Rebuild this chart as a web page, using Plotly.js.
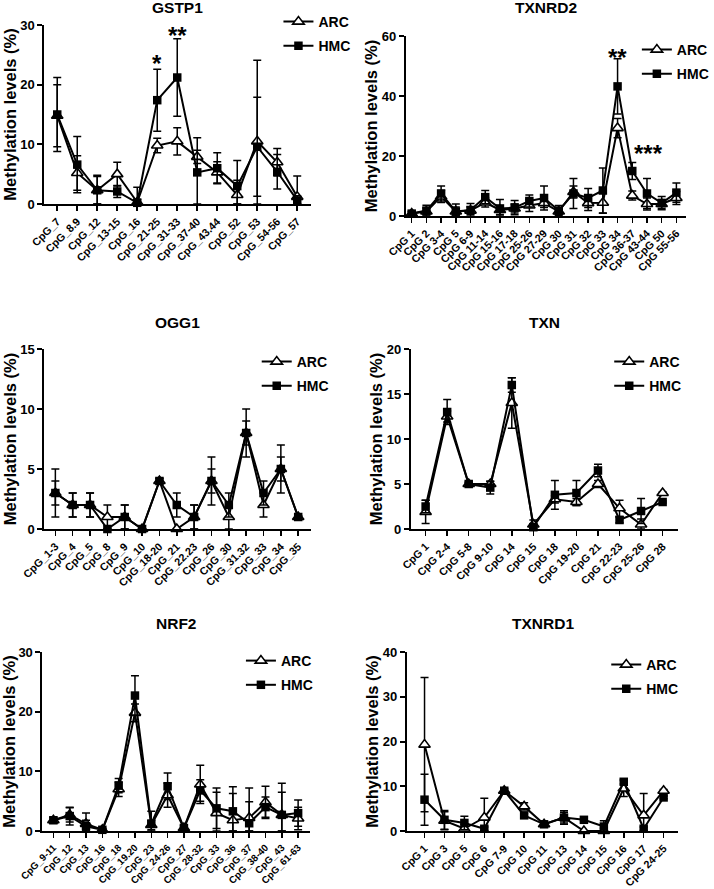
<!DOCTYPE html>
<html><head><meta charset="utf-8">
<script src="https://cdn.plot.ly/plotly-3.0.1.min.js"></script>
<style>html,body{margin:0;padding:0;background:#fff}</style>
</head><body><div id="chart" style="width:714px;height:889px"></div>
<script>
// ---------- data ----------
const seriesNames = ['ARC', 'HMC'];

const gstp1Cats = ['CpG_7','CpG_8.9','CpG_12','CpG_13-15','CpG_16','CpG_21-25','CpG_31-33','CpG_37-40','CpG_43.44','CpG_52','CpG_53','CpG_54-56','CpG_57'];
const gstp1Arc = [14.8, 5.2, 2.3, 5.0, 0.3, 9.8, 10.5, 7.9, 5.3, 1.5, 10.5, 7.0, 1.2];
const gstp1ArcErr = [5.2, 2.9, 2.3, 2.0, 0.5, 1.2, 2.3, 1.1, 1.8, 2.5, 13.6, 2.3, 3.5];
const gstp1Hmc = [15.0, 6.6, 2.3, 2.1, 0.2, 17.4, 21.2, 5.3, 6.0, 3.0, 9.6, 5.4, 0.6];
const gstp1HmcErr = [6.2, 4.7, 2.5, 1.0, 2.6, 5.2, 6.5, 5.8, 2.6, 4.3, 8.3, 2.9, 0.8];

const txnrd2Cats = ['CpG 1','CpG 2','CpG 3-4','CpG 5','CpG 6-9','CpG 11-14','CpG 15-16','CpG 17-18','CpG 25-26','CpG 27-29','CpG 30','CpG 31','CpG 32','CpG 33','CpG 34','CpG 36-37','CpG 43-44','CpG 50','CpG 55-56'];
const txnrd2Arc = [0.8, 1.5, 6.5, 1.5, 1.8, 4.5, 2.0, 2.5, 3.5, 4.3, 1.5, 8.0, 4.3, 4.4, 29.3, 6.8, 4.0, 4.0, 6.0];
const txnrd2ArcErr = [0.6, 1.2, 2.0, 1.5, 1.2, 1.5, 1.5, 1.5, 2.0, 1.5, 1.0, 2.0, 2.5, 3.5, 3.2, 1.5, 2.0, 1.5, 2.2];
const txnrd2Hmc = [0.8, 1.8, 7.5, 1.5, 2.0, 6.3, 2.5, 2.8, 5.0, 6.0, 1.8, 7.5, 6.0, 8.5, 43.2, 15.0, 7.5, 4.3, 7.8];
const txnrd2HmcErr = [0.8, 1.8, 2.5, 2.5, 2.2, 2.2, 3.0, 2.4, 2.0, 4.0, 1.7, 5.0, 3.2, 7.5, 9.2, 2.8, 5.0, 2.2, 3.2];

const ogg1Cats = ['CpG_1-3','CpG_4','CpG_5','CpG_8','CpG_9','CpG_10','CpG_18-20','CpG_21','CpG_22.23','CpG_26','CpG_30','CpG_31.32','CpG_33','CpG_34','CpG_35'];
const ogg1Arc = [3, 2, 2, 1, 1, 0, 4, 0, 1, 4, 1, 8, 2, 5, 1];
const ogg1ArcErr = [1, 1, 1, 1, 1, 0, 0.2, 0, 1, 1, 1, 1, 1, 1, 0.1];
const ogg1Hmc = [3, 2, 2, 0, 1, 0, 4, 2, 1, 4, 2, 8, 3, 5, 1];
const ogg1HmcErr = [2, 1, 1, 0, 1, 0, 0.2, 1, 1, 2, 1, 2, 1, 2, 0.1];

const txnCats = ['CpG 1','CpG 2-4','CpG 5-8','CpG 9-10','CpG 14','CpG 15','CpG 18','CpG 19-20','CpG 21','CpG 22-23','CpG 25-26','CpG 28'];
const txnArc = [1.9, 12.5, 5.0, 5.0, 14.0, 0.5, 3.3, 3.0, 5.0, 2.3, 0.5, 4.0];
const txnArcErr = [1.3, 0.6, 0.2, 0.3, 2.8, 0.5, 0.4, 0.4, 0.4, 0.9, 0.6, 0.1];
const txnHmc = [2.5, 13.0, 5.0, 4.6, 16.0, 0.2, 3.8, 4.0, 6.5, 1.0, 2.0, 3.0];
const txnHmcErr = [0.7, 1.4, 0.2, 0.7, 0.8, 0.3, 1.6, 1.4, 0.7, 0.3, 1.4, 0.1];

const nrf2Cats = ['CpG_9-11','CpG_12','CpG_13','CpG_16','CpG_18','CpG_19.20','CpG_23','CpG_24-26','CpG_27','CpG_28-32','CpG_33','CpG_36','CpG_37','CpG_38-40','CpG_43','CpG_61-63'];
const nrf2Arc = [1.8, 2.7, 1.2, 0.2, 7.0, 19.8, 1.0, 6.0, 0.5, 7.8, 3.0, 1.8, 2.2, 4.8, 2.7, 2.1];
const nrf2ArcErr = [0.4, 1.2, 1.8, 0.2, 1.2, 1.5, 0.8, 2.0, 0.4, 3.2, 3.5, 4.5, 2.7, 2.7, 5.3, 1.9];
const nrf2Hmc = [1.8, 2.5, 0.8, 0.2, 7.6, 22.7, 1.2, 7.5, 0.5, 6.8, 3.8, 3.3, 1.3, 4.0, 2.7, 3.0];
const nrf2HmcErr = [0.5, 1.5, 1.0, 0.2, 1.2, 3.3, 2.1, 2.2, 0.4, 1.8, 3.4, 4.1, 5.9, 1.7, 3.8, 2.2];

const txnrd1Cats = ['CpG 1','CpG 3','CpG 5','CpG 6','CpG 7-9','CpG 10','CpG 11','CpG 13','CpG 14','CpG 15','CpG 16','CpG 17','CpG 24-25'];
const txnrd1Arc = [19.3, 2.3, 0.5, 3.0, 9.0, 5.5, 1.5, 3.0, 0.0, 0.0, 9.5, 3.5, 9.0];
const txnrd1ArcErr = [15.0, 2.0, 1.0, 4.3, 0.5, 0.8, 0.5, 1.5, 0, 0.6, 1.8, 4.9, 0.3];
const txnrd1Hmc = [7.0, 2.5, 1.8, 0.5, 9.0, 3.5, 1.5, 3.0, 2.5, 1.0, 11.0, 0.5, 7.5];
const txnrd1HmcErr = [5.7, 2.1, 1.5, 0.4, 0.4, 0.5, 0.4, 1.2, 0.2, 1.3, 0.5, 0.4, 0.3];

// significance marks: panel index, category, text, height
const sigPanel = [0, 0, 1, 1];
const sigCat = ['CpG_21-25', 'CpG_31-33', 'CpG 34', 'CpG 36-37'];
const sigText = ['*', '**', '**', '***'];
const sigY = [23.5, 28.2, 52.8, 20.7];

// ---------- layout (pixel geometry) ----------
const W = 714, H = 889;
const FONT = 'Arial, "Liberation Sans", Helvetica, sans-serif';
const panels = [
  {title:'GSTP1', cats:gstp1Cats, arc:gstp1Arc, arcE:gstp1ArcErr, hmc:gstp1Hmc, hmcE:gstp1HmcErr, ymax:30, dtick:10, rect:[45,315,25,204], xr:[-0.64,12.69], leg:[282,6], titleY:8, xfs:10.8},
  {title:'TXNRD2', cats:txnrd2Cats, arc:txnrd2Arc, arcE:txnrd2ArcErr, hmc:txnrd2Hmc, hmcE:txnrd2HmcErr, ymax:60, dtick:20, rect:[411,695,36,216], xr:[-0.4,18.67], leg:[645,34], titleY:8, xfs:10.8},
  {title:'OGG1', cats:ogg1Cats, arc:ogg1Arc, arcE:ogg1ArcErr, hmc:ogg1Hmc, hmcE:ogg1HmcErr, ymax:15, dtick:5, rect:[45,315,349,529], xr:[-0.63,14.74], leg:[260,346], titleY:322, xfs:10.8},
  {title:'TXN', cats:txnCats, arc:txnArc, arcE:txnArcErr, hmc:txnHmc, hmcE:txnHmcErr, ymax:20, dtick:5, rect:[416,687,349,529], xr:[-0.69,11.73], leg:[617,346], titleY:322, xfs:10.8},
  {title:'NRF2', cats:nrf2Cats, arc:nrf2Arc, arcE:nrf2ArcErr, hmc:nrf2Hmc, hmcE:nrf2HmcErr, ymax:30, dtick:10, rect:[43,314,652,831], xr:[-0.67,15.73], leg:[244,645], titleY:623, xfs:9.8},
  {title:'TXNRD1', cats:txnrd1Cats, arc:txnrd1Arc, arcE:txnrd1ArcErr, hmc:txnrd1Hmc, hmcE:txnrd1HmcErr, ymax:40, dtick:10, rect:[412,687,652,831], xr:[-0.89,12.74], leg:[614,649], titleY:623, xfs:10.8}
];

const traces = [];
const layout = {
  width: W, height: H,
  margin: {l:0, r:0, t:0, b:0},
  paper_bgcolor: '#fff', plot_bgcolor: '#fff',
  font: {family: FONT, color: '#000'},
  annotations: [],
  showlegend: true
};

panels.forEach((p, i) => {
  const n = i + 1;
  const sfx = n === 1 ? '' : String(n);
  const xa = 'xaxis' + sfx, ya = 'yaxis' + sfx;
  const xr = 'x' + sfx, yr = 'y' + sfx;
  const legName = 'legend' + sfx;
  const [x0, x1, y0, y1] = p.rect;
  layout[xa] = {
    domain: [x0 / W, x1 / W], anchor: yr, type: 'category', range: p.xr,
    showline: true, linecolor: '#000', linewidth: 2, mirror: false,
    ticks: 'outside', ticklen: 5, tickwidth: 1.5, tickcolor: '#000',
    tickangle: -45, tickfont: {family: FONT, size: p.xfs, weight: 'bold', color: '#000'},
    showgrid: false, zeroline: false, fixedrange: true, automargin: false
  };
  layout[ya] = {
    domain: [1 - y1 / H, 1 - y0 / H], anchor: xr, range: [0, p.ymax], dtick: p.dtick,
    showline: true, linecolor: '#000', linewidth: 2,
    ticks: 'outside', ticklen: 5, tickwidth: 2, tickcolor: '#000',
    tickfont: {family: FONT, size: 13, weight: 'bold', color: '#000'},
    title: {text: 'Methylation levels (%)', font: {family: FONT, size: 16.5, weight: 'bold', color: '#000'}, standoff: 0},
    showgrid: false, zeroline: false, fixedrange: true, automargin: false
  };
  layout[legName] = {
    x: p.leg[0] / W, y: 1 - p.leg[1] / H, xanchor: 'left', yanchor: 'top',
    bgcolor: 'rgba(0,0,0,0)', borderwidth: 0, tracegroupgap: 3,
    font: {family: FONT, size: 14, weight: 'bold', color: '#000'}
  };
  const series = [
    {name: seriesNames[0], y: p.arc, e: p.arcE, marker: {symbol: 'triangle-up', size: 10, color: '#fff', line: {color: '#000', width: 1.6}}},
    {name: seriesNames[1], y: p.hmc, e: p.hmcE, marker: {symbol: 'square', size: 8.5, color: '#000', line: {color: '#000', width: 0}}}
  ];
  series.forEach((s, k) => {
    traces.push({
      type: 'scatter', mode: 'lines+markers', name: s.name,
      x: p.cats, y: s.y, xaxis: xr, yaxis: yr,
      legend: legName, legendgroup: 'g' + n + k,
      line: {color: '#000', width: 2},
      marker: s.marker,
      cliponaxis: false,
      error_y: {type: 'data', symmetric: false, array: s.e,
                arrayminus: s.e.map((v, j) => Math.min(v, s.y[j])),
                color: '#000', thickness: 1.5, width: 4},
      hoverinfo: 'x+y'
    });
  });
  layout.annotations.push({
    text: '<b>' + p.title + '</b>', xref: 'paper', yref: 'paper',
    x: ((x0 + x1) / 2) / W, y: 1 - p.titleY / H, xanchor: 'center', yanchor: 'middle',
    showarrow: false, font: {family: FONT, size: 15.5, color: '#000'}
  });
});

sigPanel.forEach((pi, k) => {
  const n = pi + 1;
  const sfx = n === 1 ? '' : String(n);
  layout.annotations.push({
    text: '<b>' + sigText[k] + '</b>',
    xref: 'x' + sfx, yref: 'y' + sfx,
    x: sigCat[k], y: sigY[k],
    xanchor: k === 3 ? 'left' : 'center', yanchor: 'middle',
    showarrow: false, font: {family: FONT, size: 24, color: '#000'}
  });
});

Plotly.newPlot('chart', traces, layout, {staticPlot: true, displayModeBar: false});
</script>
</body></html>
